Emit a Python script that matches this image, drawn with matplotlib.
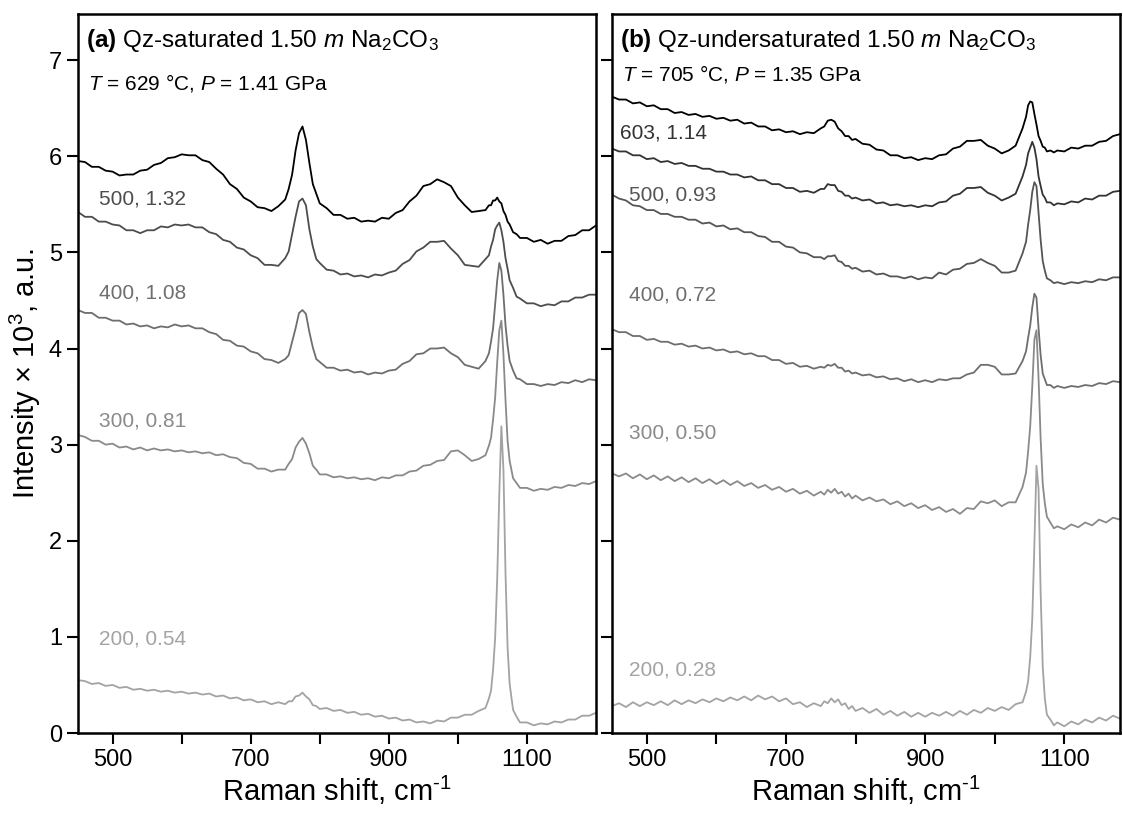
import matplotlib

matplotlib.use("Agg")
import matplotlib.pyplot as plt

plt.rcParams["font.family"] = ["Liberation Sans", "DejaVu Sans"]
plt.rcParams["mathtext.fontset"] = "custom"
plt.rcParams["mathtext.rm"] = "Liberation Sans"
plt.rcParams["mathtext.it"] = "Liberation Sans:italic"
plt.rcParams["mathtext.bf"] = "Liberation Sans:bold"

# Raman shift sampling (cm-1), shared by all spectra
shift = [
    450, 460, 470, 480, 490, 500, 510, 520, 530, 540,
    550, 560, 570, 580, 590, 600, 610, 620, 630, 640,
    650, 660, 670, 680, 690, 700, 710, 720, 730, 740,
    750, 755, 760, 765, 770, 775, 780, 785, 790, 795, 800,
    810, 820, 830, 840, 850, 860, 870, 880, 890, 900, 910, 920, 930, 940,
    950, 960, 970, 980, 990, 1000, 1010, 1020, 1030, 1040,
    1045, 1048, 1051, 1054, 1057, 1060, 1063, 1066, 1069, 1072, 1075, 1080, 1085, 1090,
    1100, 1110, 1120, 1130, 1140, 1150, 1160, 1170, 1180, 1190, 1200,
]

# (a) Qz-saturated, intensity x 10^3 (offset as plotted)
a_629 = [
    5.95, 5.94, 5.89, 5.89, 5.85, 5.84, 5.80, 5.81, 5.81, 5.85,
    5.86, 5.91, 5.93, 5.98, 5.99, 6.02, 6.01, 6.01, 5.96, 5.94,
    5.87, 5.81, 5.71, 5.66, 5.57, 5.53, 5.47, 5.46, 5.43, 5.48,
    5.55, 5.66, 5.81, 6.06, 6.24, 6.31, 6.17, 5.93, 5.71, 5.61, 5.51,
    5.46, 5.39, 5.39, 5.35, 5.36, 5.32, 5.33, 5.32, 5.36, 5.35, 5.41, 5.44, 5.53, 5.59,
    5.69, 5.71, 5.76, 5.73, 5.69, 5.57, 5.49, 5.42, 5.43, 5.44,
    5.49, 5.49, 5.54, 5.54, 5.57, 5.53, 5.51, 5.43, 5.39, 5.32, 5.29, 5.21, 5.19, 5.15,
    5.15, 5.11, 5.13, 5.09, 5.12, 5.12, 5.17, 5.18, 5.23, 5.23, 5.28,
]
a_500 = [
    5.42, 5.37, 5.37, 5.32, 5.32, 5.29, 5.28, 5.23, 5.23, 5.20,
    5.23, 5.23, 5.27, 5.26, 5.29, 5.28, 5.29, 5.26, 5.26, 5.21,
    5.19, 5.13, 5.11, 5.05, 5.03, 4.97, 4.94, 4.87, 4.87, 4.86,
    4.94, 5.01, 5.19, 5.37, 5.53, 5.56, 5.49, 5.24, 5.06, 4.93, 4.89,
    4.82, 4.81, 4.77, 4.78, 4.75, 4.76, 4.74, 4.77, 4.76, 4.79, 4.81, 4.88, 4.92, 5.01,
    5.05, 5.11, 5.11, 5.12, 5.04, 4.97, 4.87, 4.86, 4.85, 4.93,
    4.97, 5.06, 5.13, 5.24, 5.28, 5.31, 5.23, 5.11, 4.94, 4.83, 4.71, 4.63, 4.54, 4.52,
    4.47, 4.47, 4.44, 4.46, 4.45, 4.49, 4.49, 4.53, 4.53, 4.56, 4.56,
]
a_400 = [
    4.40, 4.37, 4.37, 4.32, 4.32, 4.29, 4.29, 4.25, 4.26, 4.23,
    4.24, 4.21, 4.23, 4.22, 4.25, 4.23, 4.24, 4.21, 4.21, 4.17,
    4.15, 4.09, 4.08, 4.03, 4.02, 3.97, 3.95, 3.89, 3.88, 3.85,
    3.89, 3.93, 4.07, 4.21, 4.37, 4.40, 4.36, 4.17, 4.01, 3.89, 3.86,
    3.80, 3.80, 3.77, 3.78, 3.75, 3.76, 3.73, 3.75, 3.74, 3.77, 3.78, 3.84, 3.87, 3.94,
    3.95, 4.00, 4.00, 4.01, 3.95, 3.91, 3.83, 3.81, 3.79, 3.87,
    3.95, 4.07, 4.21, 4.46, 4.71, 4.89, 4.81, 4.56, 4.24, 4.03, 3.87, 3.77, 3.69, 3.68,
    3.63, 3.63, 3.61, 3.63, 3.62, 3.65, 3.64, 3.67, 3.65, 3.68, 3.67,
]
a_300 = [
    3.10, 3.08, 3.04, 3.04, 3.00, 3.01, 2.97, 2.98, 2.95, 2.97,
    2.94, 2.96, 2.94, 2.95, 2.93, 2.94, 2.92, 2.93, 2.91, 2.92,
    2.89, 2.90, 2.87, 2.86, 2.81, 2.80, 2.75, 2.75, 2.72, 2.74,
    2.74, 2.80, 2.85, 2.97, 3.03, 3.07, 3.01, 2.91, 2.78, 2.74, 2.69,
    2.69, 2.66, 2.67, 2.65, 2.66, 2.64, 2.65, 2.63, 2.66, 2.65, 2.68, 2.68, 2.72, 2.73,
    2.78, 2.79, 2.83, 2.84, 2.93, 2.94, 2.89, 2.83, 2.85, 2.89,
    2.99, 3.07, 3.26, 3.49, 3.86, 4.19, 4.29, 3.94, 3.46, 3.04, 2.83, 2.65, 2.60, 2.55,
    2.55, 2.52, 2.54, 2.53, 2.56, 2.55, 2.58, 2.57, 2.60, 2.59, 2.62,
]
a_200 = [
    0.55, 0.54, 0.51, 0.52, 0.49, 0.50, 0.47, 0.48, 0.45, 0.46,
    0.44, 0.45, 0.43, 0.44, 0.42, 0.43, 0.41, 0.42, 0.40, 0.41,
    0.38, 0.39, 0.36, 0.37, 0.34, 0.35, 0.32, 0.33, 0.30, 0.32,
    0.30, 0.33, 0.33, 0.38, 0.39, 0.42, 0.38, 0.35, 0.29, 0.28, 0.25,
    0.26, 0.23, 0.24, 0.21, 0.22, 0.19, 0.20, 0.17, 0.18, 0.15, 0.16, 0.13, 0.14, 0.11,
    0.12, 0.10, 0.13, 0.12, 0.16, 0.16, 0.19, 0.19, 0.23, 0.26,
    0.36, 0.44, 0.66, 0.99, 1.61, 2.49, 3.19, 2.74, 1.66, 0.89, 0.51, 0.24, 0.17, 0.11,
    0.11, 0.08, 0.10, 0.09, 0.12, 0.11, 0.14, 0.14, 0.18, 0.18, 0.21,
]

# (b) Qz-undersaturated
b_705 = [
    6.62, 6.59, 6.59, 6.55, 6.56, 6.52, 6.53, 6.49, 6.49, 6.45,
    6.46, 6.43, 6.44, 6.41, 6.42, 6.39, 6.40, 6.37, 6.38, 6.34,
    6.35, 6.31, 6.31, 6.27, 6.28, 6.25, 6.26, 6.23, 6.25, 6.24,
    6.29, 6.31, 6.37, 6.38, 6.36, 6.29, 6.26, 6.21, 6.21, 6.17, 6.18,
    6.13, 6.12, 6.07, 6.06, 6.01, 6.01, 5.98, 5.99, 5.96, 5.98, 5.97, 6.01, 6.02, 6.08,
    6.10, 6.16, 6.16, 6.17, 6.11, 6.08, 6.03, 6.06, 6.11, 6.29,
    6.41, 6.53, 6.57, 6.56, 6.44, 6.33, 6.21, 6.16, 6.10, 6.09, 6.05, 6.06, 6.04, 6.06,
    6.05, 6.09, 6.08, 6.11, 6.11, 6.15, 6.16, 6.21, 6.23, 6.27, 6.27,
]
b_603 = [
    6.08, 6.05, 6.05, 6.01, 6.01, 5.97, 5.98, 5.94, 5.95, 5.92,
    5.93, 5.90, 5.90, 5.87, 5.87, 5.84, 5.84, 5.81, 5.81, 5.78,
    5.79, 5.75, 5.75, 5.71, 5.71, 5.67, 5.67, 5.63, 5.64, 5.62,
    5.66, 5.66, 5.71, 5.70, 5.70, 5.64, 5.63, 5.59, 5.59, 5.56, 5.57,
    5.54, 5.55, 5.51, 5.52, 5.49, 5.50, 5.48, 5.49, 5.47, 5.49, 5.48, 5.52, 5.53, 5.59,
    5.61, 5.67, 5.67, 5.68, 5.62, 5.59, 5.54, 5.57, 5.61, 5.79,
    5.91, 6.03, 6.09, 6.15, 6.09, 5.97, 5.79, 5.69, 5.60, 5.57, 5.52, 5.52, 5.49, 5.51,
    5.50, 5.53, 5.52, 5.56, 5.55, 5.59, 5.59, 5.63, 5.64, 5.68, 5.68,
]
b_500 = [
    5.60, 5.56, 5.54, 5.49, 5.48, 5.44, 5.44, 5.40, 5.40, 5.37,
    5.37, 5.34, 5.34, 5.30, 5.31, 5.27, 5.28, 5.24, 5.25, 5.21,
    5.21, 5.17, 5.16, 5.11, 5.11, 5.06, 5.05, 5.00, 4.99, 4.95,
    4.95, 4.93, 4.96, 4.96, 4.97, 4.91, 4.90, 4.86, 4.86, 4.83, 4.84,
    4.80, 4.81, 4.77, 4.78, 4.75, 4.75, 4.73, 4.75, 4.72, 4.74, 4.73, 4.79, 4.77, 4.82,
    4.83, 4.88, 4.89, 4.93, 4.89, 4.86, 4.79, 4.79, 4.81, 4.99,
    5.11, 5.29, 5.44, 5.63, 5.73, 5.69, 5.41, 5.13, 4.91, 4.81, 4.73, 4.71, 4.68, 4.69,
    4.67, 4.69, 4.68, 4.70, 4.69, 4.72, 4.71, 4.74, 4.74, 4.77, 4.76,
]
b_400 = [
    4.20, 4.17, 4.17, 4.13, 4.13, 4.09, 4.10, 4.07, 4.07, 4.04,
    4.05, 4.02, 4.03, 4.00, 4.01, 3.98, 3.99, 3.96, 3.97, 3.94,
    3.95, 3.92, 3.92, 3.88, 3.88, 3.84, 3.85, 3.81, 3.82, 3.79,
    3.81, 3.80, 3.83, 3.82, 3.84, 3.80, 3.80, 3.76, 3.77, 3.74, 3.75,
    3.72, 3.73, 3.70, 3.71, 3.68, 3.69, 3.66, 3.68, 3.65, 3.67, 3.65, 3.68, 3.67, 3.69,
    3.69, 3.73, 3.75, 3.83, 3.83, 3.81, 3.73, 3.73, 3.74, 3.87,
    3.97, 4.11, 4.24, 4.43, 4.57, 4.53, 4.21, 3.93, 3.74, 3.68, 3.62, 3.62, 3.59, 3.61,
    3.59, 3.61, 3.60, 3.62, 3.61, 3.64, 3.63, 3.66, 3.65, 3.68, 3.67,
]
b_300 = [
    2.70, 2.67, 2.70, 2.65, 2.69, 2.64, 2.68, 2.63, 2.67, 2.62,
    2.66, 2.61, 2.65, 2.60, 2.64, 2.59, 2.63, 2.58, 2.62, 2.57,
    2.60, 2.55, 2.58, 2.53, 2.56, 2.51, 2.54, 2.49, 2.52, 2.47,
    2.51, 2.48, 2.53, 2.50, 2.54, 2.49, 2.51, 2.46, 2.49, 2.44, 2.47,
    2.42, 2.45, 2.41, 2.43, 2.38, 2.41, 2.36, 2.39, 2.34, 2.37, 2.32, 2.35, 2.30, 2.33,
    2.28, 2.34, 2.33, 2.41, 2.39, 2.42, 2.36, 2.40, 2.40, 2.56,
    2.71, 2.93, 3.19, 3.61, 4.09, 4.19, 3.69, 3.06, 2.59, 2.39, 2.25, 2.19, 2.13, 2.15,
    2.12, 2.17, 2.14, 2.19, 2.16, 2.22, 2.19, 2.24, 2.22, 2.27, 2.24,
]
b_200 = [
    0.28, 0.31, 0.27, 0.32, 0.28, 0.32, 0.29, 0.33, 0.29, 0.34,
    0.30, 0.34, 0.31, 0.35, 0.32, 0.36, 0.33, 0.37, 0.34, 0.38,
    0.34, 0.39, 0.35, 0.38, 0.33, 0.36, 0.30, 0.32, 0.27, 0.31,
    0.28, 0.33, 0.31, 0.36, 0.32, 0.35, 0.29, 0.31, 0.25, 0.28, 0.23,
    0.26, 0.21, 0.25, 0.19, 0.23, 0.18, 0.22, 0.17, 0.21, 0.17, 0.21, 0.18, 0.22, 0.18,
    0.23, 0.19, 0.24, 0.21, 0.26, 0.23, 0.27, 0.24, 0.30, 0.32,
    0.43, 0.54, 0.79, 1.19, 1.96, 2.78, 2.54, 1.46, 0.69, 0.36, 0.19, 0.14, 0.08, 0.11,
    0.07, 0.12, 0.09, 0.14, 0.11, 0.16, 0.13, 0.18, 0.15, 0.20, 0.18,
]

# grey levels, hottest/highest-pressure spectrum first
greys_a = ["#000000", "#4d4d4d", "#6e6e6e", "#8a8a8a", "#a3a3a3"]
greys_b = ["#000000", "#333333", "#555555", "#6e6e6e", "#8a8a8a", "#a3a3a3"]

panels = [
    {
        "title": r"$\mathbf{(a)}$ Qz-saturated 1.50 $m$ Na$_2$CO$_3$",
        "spectra": [a_629, a_500, a_400, a_300, a_200],
        "labels": [r"$T$ = 629 °C, $P$ = 1.41 GPa", "500, 1.32", "400, 1.08", "300, 0.81", "200, 0.54"],
        "label_xy": [(464, 6.76), (480, 5.56), (480, 4.58), (480, 3.25), (480, 0.98)],
        "colors": greys_a,
        "xlim": (450, 1200),
        "rect": [0.0695, 0.1039, 0.4612, 0.879],
    },
    {
        "title": r"$\mathbf{(b)}$ Qz-undersaturated 1.50 $m$ Na$_2$CO$_3$",
        "spectra": [b_705, b_603, b_500, b_400, b_300, b_200],
        "labels": [r"$T$ = 705 °C, $P$ = 1.35 GPa", "603, 1.14", "500, 0.93", "400, 0.72", "300, 0.50", "200, 0.28"],
        "label_xy": [(464, 6.86), (462, 6.24), (475, 5.6), (475, 4.56), (475, 3.12), (475, 0.66)],
        "colors": greys_b,
        "xlim": (450, 1180),
        "rect": [0.545, 0.1039, 0.4523, 0.879],
    },
]

fig = plt.figure(figsize=(11.23, 8.18), dpi=100)

for i, p in enumerate(panels):
    ax = fig.add_axes(p["rect"])
    for y, c in zip(p["spectra"], p["colors"]):
        ax.plot(shift, y, color=c, linewidth=1.3)
    for (tx, ty), lab, c in zip(p["label_xy"], p["labels"], p["colors"]):
        ax.text(tx, ty, lab, color=c, fontsize=15, va="center", ha="left")
    ax.text(462, 7.2, p["title"], fontsize=17.5, va="center", ha="left")

    ax.set_xlim(*p["xlim"])
    ax.set_ylim(0, 7.48)
    ax.set_xticks([500, 600, 700, 800, 900, 1000, 1100])
    ax.set_xticklabels(["500", "", "700", "", "900", "", "1100"])
    ax.set_yticks(range(8))
    if i == 0:
        ax.set_ylabel("Intensity × 10$^3$, a.u.", fontsize=21)
    else:
        ax.set_yticklabels([])
    ax.set_xlabel(r"Raman shift, cm$^{\text{-1}}$", fontsize=21, labelpad=2)
    ax.tick_params(direction="out", length=8, width=1.5, labelsize=17)
    for s in ax.spines.values():
        s.set_linewidth(1.8)

fig.savefig("out.png", dpi=100)
